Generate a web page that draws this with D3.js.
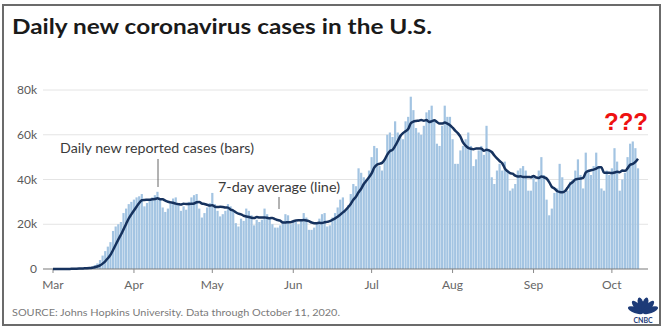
<!DOCTYPE html>
<html>
<head>
<meta charset="utf-8">
<script src="https://cdn.jsdelivr.net/npm/d3@7"></script>
<style>
  body { margin: 0; background: #fff; }
  svg { display: block; font-family: Lato, "Open Sans", sans-serif; }
</style>
</head>
<body>
<div id="chart"></div>
<script>
// daily new cases, Mar 1 .. Oct 11 2020
var firstDay = new Date(2020, 2, 1);
var casesMar = [10, 20, 25, 30, 70, 50, 130, 120, 120, 380, 320, 400, 520, 560, 800, 1100, 1800, 2500, 4000, 6000,
  8000, 10000, 12000, 17000, 19000, 20000, 21000, 25000, 27000, 29000, 30000];
var casesApr = [31000, 32000, 32500, 33500, 28000, 29500, 30500, 32000, 33000, 34500, 31000, 27500, 25500, 27000, 30000,
  31500, 32000, 29500, 26000, 28000, 26500, 30000, 32000, 33000, 33500, 27000, 23000, 25000, 27500, 29500];
var casesMay = [34000, 29000, 26000, 23500, 24500, 26000, 29000, 28000, 26000, 20500, 19000, 22500, 21500, 27000, 26000,
  24000, 19500, 22000, 21000, 22000, 27000, 24500, 23000, 20000, 18500, 18500, 19500, 21500, 24500, 24000, 20000];
var casesJun = [21500, 21000, 20000, 21500, 25000, 23000, 17500, 17500, 18500, 20500, 22500, 24500, 25000, 19000, 19500,
  23000, 25000, 27500, 31000, 32000, 26000, 28500, 33500, 38000, 37000, 45000, 43000, 41000, 39000, 44000];
var casesJul = [50000, 55000, 54000, 46000, 44000, 49000, 60000, 61000, 59000, 66000, 61000, 60000, 58000, 66000, 68000,
  77000, 71000, 63000, 61000, 60000, 64000, 70000, 71000, 73000, 66000, 56000, 55000, 64000, 73000, 68000, 68000];
var casesAug = [58000, 47000, 47000, 53000, 55000, 58000, 61000, 55000, 46000, 49000, 53000, 55000, 51000, 64000, 53000,
  41000, 38000, 44000, 47000, 44000, 48000, 44000, 35000, 36000, 38000, 44000, 45000, 46000, 44000, 35000, 35000];
var casesSep = [42000, 39000, 44000, 50000, 42000, 31000, 24000, 27000, 34000, 36000, 47000, 41000, 34000, 35000, 39000,
  40000, 44000, 49000, 42000, 36000, 52000, 44000, 42000, 46000, 52000, 46000, 36000, 35000, 44000, 42000];
var casesOct = [45000, 54000, 48000, 35000, 40000, 43000, 50000, 56000, 57000, 54000, 45000];

var monthLabels = ["Mar", "Apr", "May", "Jun", "Jul", "Aug", "Sep", "Oct"];
var yTicks = [0, 20000, 40000, 60000, 80000];

var cases = [].concat(casesMar, casesApr, casesMay, casesJun, casesJul, casesAug, casesSep, casesOct);
var data = cases.map(function(v, i){ return {date: d3.timeDay.offset(firstDay, i), value: v}; });
// trailing 7-day average
data.forEach(function(d, i){
  d.avg = d3.mean(cases.slice(Math.max(0, i - 6), i + 1));
});

var w = 664, h = 328;
var svg = d3.select('#chart').append('svg').attr('width', w).attr('height', h);

// frame of the screenshot
svg.append('rect').attr('x', 3).attr('y', 5).attr('width', 657).attr('height', 320)
  .attr('fill', 'none').attr('stroke', '#6b6b6b').attr('stroke-width', 2);

svg.append('text').attr('x', 12).attr('y', 34)
  .attr('font-size', 20).attr('font-weight', 700).attr('fill', '#1a1a1a')
  .attr('textLength', 420).attr('lengthAdjust', 'spacingAndGlyphs')
  .text('Daily new coronavirus cases in the U.S.');

var x = d3.scaleTime().domain([firstDay, data[data.length - 1].date]).range([53, 638]);
var y = d3.scaleLinear().domain([0, 80000]).range([269, 90]);

// grid
svg.append('g').selectAll('line').data(yTicks.slice(1)).join('line')
  .attr('x1', 43).attr('x2', 648)
  .attr('y1', function(d){ return y(d); }).attr('y2', function(d){ return y(d); })
  .attr('stroke', '#e4e4e4').attr('stroke-width', 1);

svg.append('g').selectAll('text').data(yTicks).join('text')
  .attr('x', 37).attr('y', function(d){ return y(d) + 4; })
  .attr('text-anchor', 'end').attr('font-size', 12).attr('fill', '#5a5a5a')
  .text(function(d){ return d === 0 ? '0' : (d / 1000) + 'k'; });

// bars
var bw = 2.2;
svg.append('g').selectAll('rect').data(data).join('rect')
  .attr('x', function(d){ return x(d.date) - bw / 2; })
  .attr('y', function(d){ return y(d.value); })
  .attr('width', bw)
  .attr('height', function(d){ return y(0) - y(d.value); })
  .attr('fill', '#a3c4e2');

// baseline + month ticks
svg.append('line').attr('x1', 43).attr('x2', 648).attr('y1', y(0)).attr('y2', y(0))
  .attr('stroke', '#7a7a7a').attr('stroke-width', 1.2);

var months = monthLabels.map(function(m, i){ return new Date(2020, 2 + i, 1); });
svg.append('g').selectAll('line').data(months).join('line')
  .attr('x1', function(d){ return x(d); }).attr('x2', function(d){ return x(d); })
  .attr('y1', y(0)).attr('y2', y(0) + 4)
  .attr('stroke', '#8a8a8a');
svg.append('g').selectAll('text').data(months).join('text')
  .attr('x', function(d){ return x(d); }).attr('y', 289)
  .attr('text-anchor', 'middle').attr('font-size', 12).attr('fill', '#666')
  .text(function(d, i){ return monthLabels[i]; });

// 7-day average line
var line = d3.line()
  .x(function(d){ return x(d.date); })
  .y(function(d){ return y(d.avg); })
  .curve(d3.curveMonotoneX);
svg.append('path').datum(data)
  .attr('d', line)
  .attr('fill', 'none').attr('stroke', '#16325e').attr('stroke-width', 2.5)
  .attr('stroke-linejoin', 'round');

// annotations
svg.append('text').attr('x', 60).attr('y', 153)
  .attr('font-size', 13.5).attr('fill', '#3a3a3a')
  .attr('textLength', 194).attr('lengthAdjust', 'spacingAndGlyphs')
  .text('Daily new reported cases (bars)');
svg.append('line').attr('x1', 158).attr('x2', 158).attr('y1', 159).attr('y2', 187)
  .attr('stroke', '#666').attr('stroke-width', 1);

svg.append('text').attr('x', 218).attr('y', 192)
  .attr('font-size', 13.5).attr('fill', '#3a3a3a')
  .attr('textLength', 122).attr('lengthAdjust', 'spacingAndGlyphs')
  .text('7-day average (line)');
svg.append('line').attr('x1', 279).attr('x2', 279).attr('y1', 197).attr('y2', 209)
  .attr('stroke', '#666').attr('stroke-width', 1);

svg.append('text').attr('x', 604).attr('y', 130)
  .attr('font-family', '"Liberation Sans", Arial, sans-serif')
  .attr('font-size', 24).attr('font-weight', 700).attr('fill', '#ee1111')
  .text('???');

svg.append('text').attr('x', 12).attr('y', 316)
  .attr('font-size', 9.5).attr('fill', '#7a7a7a')
  .attr('textLength', 328).attr('lengthAdjust', 'spacingAndGlyphs')
  .text('SOURCE: Johns Hopkins University. Data through October 11, 2020.');

// CNBC peacock, rough
var logo = svg.append('g').attr('transform', 'translate(643,313)');
[-70, -42, -14, 14, 42, 70].forEach(function(a){
  logo.append('ellipse').attr('cx', 0).attr('cy', -8).attr('rx', 3).attr('ry', 8)
    .attr('fill', '#1d3b78').attr('transform', 'rotate(' + a + ')');
});
logo.append('text').attr('x', 0).attr('y', 10).attr('text-anchor', 'middle')
  .attr('font-size', 7).attr('font-weight', 700).attr('fill', '#1d3b78').text('CNBC');
</script>
</body>
</html>
